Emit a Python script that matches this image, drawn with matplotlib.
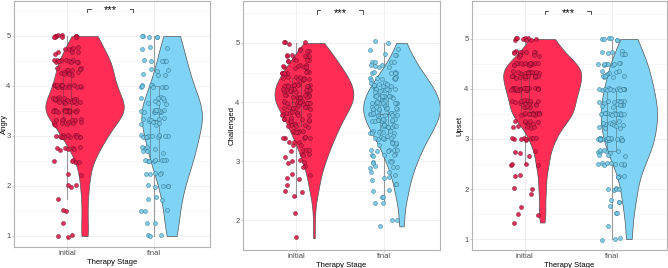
import numpy as np
import matplotlib
matplotlib.use("Agg")
import matplotlib.pyplot as plt

plt.rcParams["font.family"] = ["Liberation Sans", "DejaVu Sans"]

# likert scores: value levels and how many respondents sit on each
stages = ["initial", "final"]

angry_initial_levels = [5.0, 4.75, 4.67, 4.5, 4.33, 4.25, 4.0, 3.75, 3.67, 3.5, 3.33, 3.25,
                        3.0, 2.75, 2.5, 2.25, 2.0, 1.75, 1.5, 1.25, 1.0]
angry_initial_counts = [10, 5, 4, 12, 7, 8, 19, 12, 8, 20, 8, 8, 14, 7, 5, 2, 3, 1, 2, 1, 3]
angry_final_levels = [5.0, 4.75, 4.5, 4.33, 4.25, 4.0, 3.75, 3.67, 3.5, 3.33, 3.25, 3.0,
                      2.75, 2.67, 2.5, 2.25, 2.0, 1.75, 1.5, 1.25, 1.0]
angry_final_counts = [5, 3, 5, 3, 3, 9, 5, 4, 11, 6, 5, 11, 5, 3, 8, 5, 5, 3, 3, 2, 3]

chall_initial_levels = [5.0, 4.9, 4.8, 4.7, 4.6, 4.5, 4.4, 4.3, 4.2, 4.1, 4.0, 3.9, 3.8, 3.7,
                        3.6, 3.5, 3.4, 3.3, 3.2, 3.1, 3.0, 2.9, 2.8, 2.7, 2.6, 2.5, 2.4, 2.1,
                        1.7]
chall_initial_counts = [4, 4, 6, 6, 8, 9, 10, 11, 12, 12, 12, 10, 9, 8, 7, 7, 6, 5, 4, 4, 4,
                        2, 2, 2, 1, 2, 1, 1, 1]
chall_final_levels = [5.0, 4.9, 4.8, 4.7, 4.6, 4.5, 4.4, 4.3, 4.2, 4.1, 4.0, 3.9, 3.8, 3.7,
                      3.6, 3.5, 3.4, 3.3, 3.2, 3.1, 3.0, 2.9, 2.8, 2.7, 2.6, 2.5, 2.4, 2.3,
                      2.0, 1.9]
chall_final_counts = [2, 2, 3, 4, 5, 6, 8, 9, 10, 11, 12, 12, 12, 11, 10, 9, 8, 7, 6, 5, 5,
                      4, 3, 3, 2, 2, 2, 2, 2, 1]

upset_initial_levels = [5.0, 4.75, 4.67, 4.5, 4.33, 4.25, 4.0, 3.75, 3.67, 3.5, 3.33, 3.25,
                        3.0, 2.75, 2.67, 2.5, 2.25, 2.0, 1.9, 1.67, 1.5, 1.33]
upset_initial_counts = [9, 8, 5, 16, 12, 14, 24, 12, 8, 14, 7, 6, 9, 3, 1, 4, 2, 2, 1, 1, 2, 1]
upset_final_levels = [5.0, 4.75, 4.67, 4.5, 4.33, 4.25, 4.0, 3.75, 3.67, 3.5, 3.33, 3.25,
                      3.0, 2.75, 2.67, 2.5, 2.25, 2.0, 1.75, 1.67, 1.5, 1.25, 1.0]
upset_final_counts = [6, 4, 3, 9, 5, 6, 16, 8, 6, 14, 7, 6, 18, 7, 3, 9, 4, 5, 3, 1, 2, 1, 3]

panels = [
    ("Angry", (angry_initial_levels, angry_initial_counts), (angry_final_levels, angry_final_counts)),
    ("Challenged", (chall_initial_levels, chall_initial_counts), (chall_final_levels, chall_final_counts)),
    ("Upset", (upset_initial_levels, upset_initial_counts), (upset_final_levels, upset_final_counts)),
]

# layout in pixels (left, right, bottom, right edge of y label) and y limits per panel
W, H = 668, 268
boxes_px = [(14, 210, 247, 8), (243, 440, 250, 235.5), (472, 667, 250, 463.5)]
ylims = [(0.78, 5.70), (1.51, 5.71), (0.78, 5.76)]
yticks = [[1, 2, 3, 4, 5], [2, 3, 4, 5], [1, 2, 3, 4, 5]]

violin_cols = ["#FF2D55", "#7FD4F6"]
point_cols = ["#DC1C4A", "#79C9E6"]
point_edges = ["#7A0C26", "#2E7898"]


def kde(vals, grid):
    n = len(vals)
    sd = np.std(vals, ddof=1)
    q1, q3 = np.percentile(vals, [25, 75])
    bw = 0.9 * min(sd, (q3 - q1) / 1.34) * n ** -0.2
    z = (grid[:, None] - vals[None, :]) / bw
    return np.exp(-0.5 * z ** 2).sum(axis=1) / (n * bw * np.sqrt(2 * np.pi))


def scramble(k, v, seed):
    # deterministic hash in [0, 1) used only to spread points sideways
    return np.modf(np.abs(np.sin(k * 12.9898 + v * 78.233 + seed) * 43758.5453))[0]


fig = plt.figure(figsize=(W / 100, H / 100), dpi=100)

for p, ((label, g_init, g_final), (l, r, b, lx), ylim, yt) in enumerate(zip(panels, boxes_px, ylims, yticks)):
    ax = fig.add_axes([l / W, (H - b) / H, (r - l) / W, (b - 1) / H])
    groups = [np.repeat(g_init[0], g_init[1]), np.repeat(g_final[0], g_final[1])]

    # violins, scaled by area like ggplot (largest density -> width 0.9)
    grids = [np.linspace(v.min(), v.max(), 512) for v in groups]
    dens = [kde(v, gr) for v, gr in zip(groups, grids)]
    dmax = max(d.max() for d in dens)
    for i, (gr, d) in enumerate(zip(grids, dens)):
        cx = i + 1 + 0.2
        hw = d / dmax * 0.45
        ax.fill_betweenx(gr, cx - hw, cx + hw, facecolor=violin_cols[i],
                         edgecolor="#555555", linewidth=0.5, zorder=2)

    # thin boxplots at the category
    bp = ax.boxplot(groups, positions=[1, 2], widths=0.1, patch_artist=True,
                    showfliers=False, showcaps=False, manage_ticks=False,
                    whiskerprops=dict(color="#9A9A9A", linewidth=0.8),
                    medianprops=dict(color="#333333", linewidth=0.9),
                    boxprops=dict(edgecolor="#444444", linewidth=0.6))
    for patch, c in zip(bp["boxes"], violin_cols):
        patch.set_facecolor(c)
        patch.set_alpha(0.5)
        patch.set_zorder(3)
    for ln in bp["whiskers"]:
        ln.set_zorder(1.5)

    # jittered points
    for i, v in enumerate(groups):
        k = np.arange(len(v))
        dx = (scramble(k, v, p * 3 + i) - 0.5) * 0.32
        dy = (scramble(k, v, p * 3 + i + 17.0) - 0.5) * 0.06
        ax.scatter(i + 1 + dx, v + dy, s=8, facecolor=point_cols[i], edgecolor=point_edges[i],
                   linewidth=0.4, alpha=0.9, zorder=4)

    # significance bracket
    yb = 5.55
    ax.plot([1.23, 1.23, 1.27], [yb - 0.06, yb, yb], color="#333333", lw=0.6)
    ax.plot([1.72, 1.76, 1.76], [yb, yb, yb - 0.06], color="#333333", lw=0.6)
    ax.text(1.5, yb - 0.04, "***", ha="center", va="center", fontsize=8)

    ax.set_xlim(0.39, 2.64)
    ax.set_ylim(*ylim)
    ax.set_xticks([1, 2])
    ax.set_xticklabels(stages)
    ax.set_yticks(yt)
    ax.set_yticks(np.arange(1.5, 6, 1.0), minor=True)
    ax.grid(True, which="major", color="#EBEBEB", linewidth=0.5, zorder=0)
    ax.grid(True, which="minor", axis="y", color="#F2F2F2", linewidth=0.4, zorder=0)
    ax.set_axisbelow(True)
    ax.tick_params(axis="both", which="major", labelsize=5.5, labelcolor="#4D4D4D",
                   color="#B3B3B3", length=1.5, width=0.5, pad=1)
    ax.tick_params(which="minor", length=0)
    for sp in ax.spines.values():
        sp.set_color("#B3B3B3")
        sp.set_linewidth(0.8)
    ax.set_ylabel(label, fontsize=5.5)
    ax.yaxis.set_label_coords((lx - l) / (r - l), 0.5)
    ax.set_xlabel("Therapy Stage", fontsize=5.5, labelpad=1)

fig.savefig("out.png", dpi=100)
